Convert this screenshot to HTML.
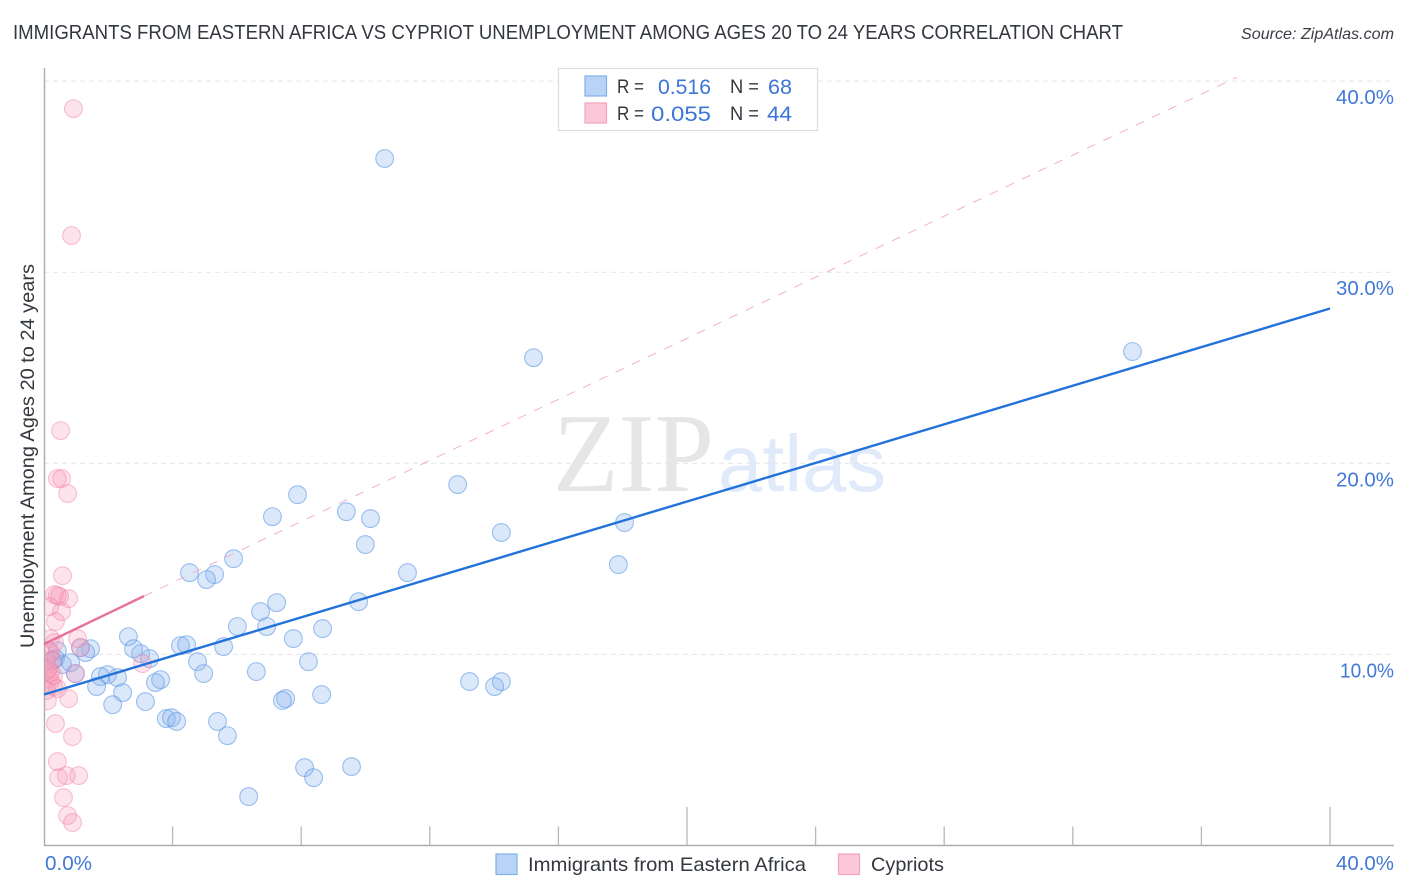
<!DOCTYPE html>
<html lang="en">
<head>
<meta charset="utf-8">
<title>Immigrants from Eastern Africa vs Cypriot Unemployment Correlation Chart</title>
<style>
html,body{margin:0;padding:0;background:#fff;}
svg{display:block;font-family:"Liberation Sans",sans-serif;}
</style>
</head>
<body>
<svg id="chart" width="1406" height="892" viewBox="0 0 1406 892" xmlns="http://www.w3.org/2000/svg">
  <defs>
    <clipPath id="plot-clip"><rect x="45" y="60" width="1349" height="785"></rect></clipPath>
  </defs>
  <rect x="0" y="0" width="1406" height="892" fill="#ffffff"></rect>
  <text x="13" y="39" font-size="20" fill="#33373e" textLength="1110" lengthAdjust="spacingAndGlyphs">IMMIGRANTS FROM EASTERN AFRICA VS CYPRIOT UNEMPLOYMENT AMONG AGES 20 TO 24 YEARS CORRELATION CHART</text>
  <text x="1241" y="39" font-size="16" font-style="italic" fill="#3a3e44" textLength="153" lengthAdjust="spacingAndGlyphs">Source: ZipAtlas.com</text>
  <g>
    <text x="553" y="491" font-family="'Liberation Serif',serif" font-size="112" fill="#e6e6e6" textLength="161" lengthAdjust="spacingAndGlyphs">ZIP</text>
    <text x="718" y="491" font-size="80" fill="#e0eafa" textLength="168" lengthAdjust="spacingAndGlyphs">atlas</text>
  </g>
  <g id="grid"></g>
  <g id="axes"></g>
  <g clip-path="url(#plot-clip)">
    <g id="points" transform="translate(0.5,0.6)"></g>
  </g>
  <g id="trends"></g>
  <g id="labels"></g>
  <text transform="translate(34,456) rotate(-90)" font-size="19.5" fill="#33373e" text-anchor="middle" textLength="384" lengthAdjust="spacingAndGlyphs">Unemployment Among Ages 20 to 24 years</text>
  <g>
    <rect x="558.5" y="68.5" width="259" height="62" fill="#ffffff" stroke="#dcdcdc" stroke-width="1.2"></rect>
    <rect x="585" y="76" width="21.5" height="20" fill="#b9d3f7" stroke="#7fb0ea" stroke-width="1.2"></rect>
    <rect x="585" y="103" width="21.5" height="20" fill="#fcc8d9" stroke="#f4a3bd" stroke-width="1.2"></rect>
    <text x="617" y="93" font-size="19" fill="#33373e" textLength="27" lengthAdjust="spacingAndGlyphs">R =</text>
    <text x="658" y="94" font-size="21.5" fill="#3b75d6" textLength="53" lengthAdjust="spacingAndGlyphs">0.516</text>
    <text x="730" y="93" font-size="19" fill="#33373e" textLength="29" lengthAdjust="spacingAndGlyphs">N =</text>
    <text x="768" y="94" font-size="21.5" fill="#3b75d6" textLength="24" lengthAdjust="spacingAndGlyphs">68</text>
    <text x="617" y="120" font-size="19" fill="#33373e" textLength="27" lengthAdjust="spacingAndGlyphs">R =</text>
    <text x="651" y="121" font-size="21.5" fill="#3b75d6" textLength="60" lengthAdjust="spacingAndGlyphs">0.055</text>
    <text x="730" y="120" font-size="19" fill="#33373e" textLength="29" lengthAdjust="spacingAndGlyphs">N =</text>
    <text x="767" y="121" font-size="21.5" fill="#3b75d6" textLength="25" lengthAdjust="spacingAndGlyphs">44</text>
  </g>
  <g>
    <rect x="496" y="854" width="21" height="20.5" fill="#b9d3f7" stroke="#7fb0ea" stroke-width="1.2"></rect>
    <text x="528" y="871" font-size="19.5" fill="#33373e" textLength="278" lengthAdjust="spacingAndGlyphs">Immigrants from Eastern Africa</text>
    <rect x="838.500" y="854" width="21" height="20.5" fill="#fcc8d9" stroke="#f4a3bd" stroke-width="1.2"></rect>
    <text x="871" y="871" font-size="19.5" fill="#33373e" textLength="73" lengthAdjust="spacingAndGlyphs">Cypriots</text>
  </g>
</svg>
<script>
const yTickValues = [10, 20, 30, 40];
const yTickLabels = ["10.0%", "20.0%", "30.0%", "40.0%"];
const xTickValues = [0, 4, 8, 12, 16, 20, 24, 28, 32, 36, 40];
const xMajorTicks = [20, 40];
const xEndLabels = ["0.0%", "40.0%"];

const africaX = [10.58,15.21,33.84,7.87,12.85,7.09,9.39,10.14,14.21,18.04,9.98,5.88,17.85,4.51,5.29,5.04,11.29,9.77,7.22,6.72,6.00,6.91,8.65,7.74,2.61,4.23,4.42,5.57,2.77,2.99,3.27,4.76,8.21,6.59,4.95,1.96,2.27,1.74,3.61,3.45,1.62,2.43,2.12,3.14,8.62,7.50,7.40,13.22,14.21,14.00,3.79,3.95,4.11,5.38,5.69,8.09,9.55,8.37,6.35,1.43,1.28,1.12,0.40,0.34,0.56,0.81,0.96,0.25];
const africaY = [35.98,25.56,25.88,18.39,18.92,17.24,17.50,17.14,16.41,16.93,15.78,15.04,14.73,14.31,14.21,13.95,14.31,12.79,12.74,12.27,11.49,11.49,11.38,10.86,10.96,10.49,10.54,10.44,10.33,10.07,9.81,9.65,9.65,9.13,9.03,8.97,8.82,8.87,8.71,8.56,8.35,8.03,7.40,7.56,7.93,7.72,7.62,8.61,8.61,8.35,6.67,6.72,6.52,6.52,5.78,4.11,4.16,3.58,2.59,10.33,10.13,10.39,10.23,9.81,9.50,9.60,9.03,9.71];

const cypriotX = [0.90,0.84,0.50,0.40,0.53,0.72,0.56,0.31,0.47,0.40,0.75,0.53,0.16,0.34,0.19,1.03,0.31,1.12,0.12,0.19,0.06,0.25,0.09,0.12,0.19,3.05,0.96,0.28,0.40,0.09,0.75,0.34,0.87,0.40,0.44,0.68,1.06,0.59,0.72,0.87,0.19,0.28,0.12,0.06];
const cypriotY = [38.59,31.95,21.74,19.23,19.23,18.45,14.15,13.16,13.06,13.11,12.95,12.27,12.53,11.75,10.86,10.86,10.65,10.39,10.23,10.13,9.71,9.71,9.18,8.76,8.66,9.55,9.03,8.35,8.24,7.61,7.72,6.41,5.73,4.42,3.58,3.69,3.69,2.54,1.60,1.23,9.08,8.92,9.29,8.14];

const africaTrendX = [0, 40];
const africaTrendY = [7.9, 28.1];
const cypriotTrendX = [0, 3.11];
const cypriotTrendY = [10.54, 13.05];
const cypriotExtendX = [3.11, 37.1];
const cypriotExtendY = [13.05, 40.2];

const NS = "http://www.w3.org/2000/svg";
function xScale(v) { return 44 + v * 32.15; }
function yScale(v) { return 845.5 - v * 19.11; }

function make(tag, parentId, attrs) {
  const el = document.createElementNS(NS, tag);
  for (const k in attrs) el.setAttribute(k, attrs[k]);
  document.getElementById(parentId).appendChild(el);
  return el;
}

yTickValues.forEach(function (v) {
  const g = make("line", "grid", {x1: 44, x2: 1394, y1: yScale(v), y2: yScale(v), stroke: "#e3e3e3", "stroke-width": 1, "stroke-dasharray": "5 4"});
  
  
});

const yAxisLine = make("line", "axes", {x1: 44.5, x2: 44.5, y1: 68, y2: 846, stroke: "#adadad", "stroke-width": 1.4});


const xAxisLine = make("line", "axes", {x1: 44, x2: 1394, y1: 845.5, y2: 845.5, stroke: "#adadad", "stroke-width": 1.4});



xTickValues.forEach(function (v) {
  if (v === 0) return;
  const top = xMajorTicks.indexOf(v) >= 0 ? 807 : 826.5;
  const t = make("line", "axes", {x1: xScale(v), x2: xScale(v), y1: top, y2: 845.5, stroke: "#b8b8b8", "stroke-width": 1.3});
  
  
});

function drawPoints(xs, ys, fill, stroke, name) {
  xs.forEach(function (x, i) {
    const c = make("circle", "points", {cx: xScale(x), cy: yScale(ys[i]), r: 8.9, fill: fill, stroke: stroke, "stroke-width": 1.1});
    
    
  });
}
drawPoints(africaX, africaY, "rgba(135,180,238,0.30)", "rgba(90,150,228,0.58)", "africa-point");
drawPoints(cypriotX, cypriotY, "rgba(246,150,180,0.27)", "rgba(240,130,168,0.48)", "cypriot-point");

const extendLine = make("line", "trends", {x1: xScale(cypriotExtendX[0]), y1: yScale(cypriotExtendY[0]), x2: xScale(cypriotExtendX[1]), y2: yScale(cypriotExtendY[1]), stroke: "#f4aec6", "stroke-width": 1, "stroke-dasharray": "9 9"});


const cypriotLine = make("line", "trends", {x1: xScale(cypriotTrendX[0]), y1: yScale(cypriotTrendY[0]), x2: xScale(cypriotTrendX[1]), y2: yScale(cypriotTrendY[1]), stroke: "#e8709a", "stroke-width": 2.4});


const africaLine = make("line", "trends", {x1: xScale(africaTrendX[0]), y1: yScale(africaTrendY[0]), x2: xScale(africaTrendX[1]), y2: yScale(africaTrendY[1]), stroke: "#2272dc", "stroke-width": 2.4});



yTickValues.forEach(function (v, i) {
  const t = make("text", "labels", {x: 1394, y: yScale(v) + 23, "font-size": 20, fill: "#4279d8", "text-anchor": "end"});
  t.setAttribute('textLength', v === 10 ? 54 : 58);
  t.setAttribute('lengthAdjust', 'spacingAndGlyphs');
  t.textContent = yTickLabels[i];
  
  
});

const xLabelStart = make("text", "labels", {x: 45, y: 870, "font-size": 20, fill: "#4279d8", textLength: 47, lengthAdjust: "spacingAndGlyphs"});
xLabelStart.textContent = xEndLabels[0];


const xLabelEnd = make("text", "labels", {x: 1394, y: 870, "font-size": 20, fill: "#4279d8", "text-anchor": "end", textLength: 58, lengthAdjust: "spacingAndGlyphs"});
xLabelEnd.textContent = xEndLabels[1];


</script>
</body>
</html>
